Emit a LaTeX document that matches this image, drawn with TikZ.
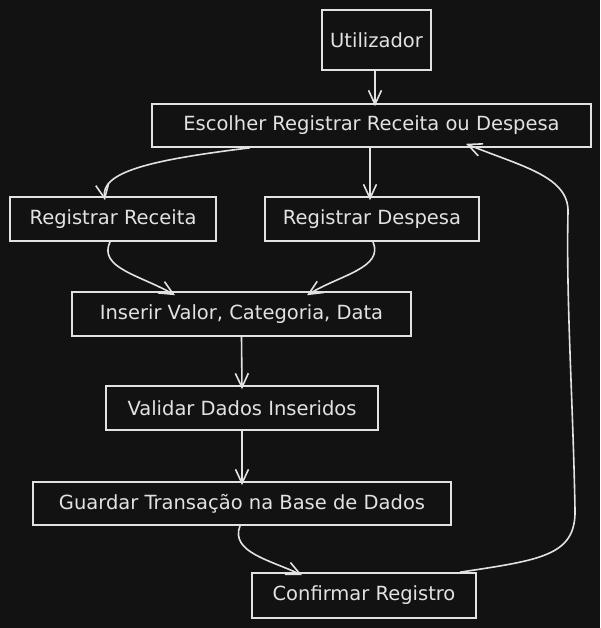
\documentclass[tikz,border=0pt]{standalone}
\usepackage{fontspec}
\setmainfont{DejaVu Sans}
\usetikzlibrary{arrows.meta}
\definecolor{bgdark}{HTML}{121212}
\definecolor{inkwhite}{HTML}{E2E2E2}

\begin{document}
\begin{tikzpicture}[x=1pt,y=-1pt,
	box/.style={draw=inkwhite, line width=1.6pt, text=inkwhite, inner sep=0pt, font=\fontsize{19.5}{21}\selectfont},
	flow/.style={draw=inkwhite, line width=1.6pt, -{Straight Barb[length=14pt,width=13pt,line width=1.6pt]}}]
			\fill[bgdark] (0,0) rectangle (600,628);
			\node[box, minimum width=109pt, minimum height=60pt] (user) at (376.5,40) {Utilizador};
			\node[box, minimum width=439pt, minimum height=43pt] (choose) at (371.5,125.5) {Escolher Registrar Receita ou Despesa};
			\node[box, minimum width=206pt, minimum height=44pt] (income) at (113,219) {Registrar Receita};
			\node[box, minimum width=214pt, minimum height=44pt] (expense) at (372,219) {Registrar Despesa};
			\node[box, minimum width=339pt, minimum height=44pt] (input) at (241.5,314) {Inserir Valor, Categoria, Data};
			\node[box, minimum width=272pt, minimum height=44pt] (check) at (242,408) {Validar Dados Inseridos};
			\node[box, minimum width=418pt, minimum height=43pt] (store) at (242,503.5) {Guardar Transação na Base de Dados};
			\node[box, minimum width=224pt, minimum height=45pt] (confirm) at (364,595.5) {Confirmar Registro};
			\draw[flow] ([xshift=-1.5pt]user.south) -- ([xshift=3.5pt,yshift=-3pt]choose.north);
			\draw[flow] ([xshift=-121.5pt]choose.south) .. controls (150,160) and (100,172) .. ([xshift=-8pt,yshift=-4pt]income.north);
			\draw[flow] ([xshift=-1.5pt]choose.south) -- ([xshift=-2pt,yshift=-4pt]expense.north);
			\draw[flow] ([xshift=-3pt]income.south) .. controls (98,268) and (140,275) .. ([xshift=-66.5pt,yshift=-4pt]input.north);
			\draw[flow] ([xshift=1pt]expense.south) .. controls (384,268) and (340,275) .. ([xshift=65.5pt,yshift=-4pt]input.north);
			\draw[flow] (input.south) -- ([yshift=-4pt]check.north);
			\draw[flow] (check.south) -- ([yshift=-4pt]store.north);
			\draw[flow] ([xshift=-2pt]store.south) .. controls (230,552) and (270,560) .. ([xshift=-62pt,yshift=-3pt]confirm.north);
			\draw[flow] ([xshift=96pt]confirm.north) .. controls (540,560) and (576,556) .. (575,510)
				.. controls (573,400) and (566,300) .. (568,212)
				.. controls (569,176) and (520,166) .. ([xshift=94.5pt,yshift=4pt]choose.south);
		\end{tikzpicture}
\end{document}
